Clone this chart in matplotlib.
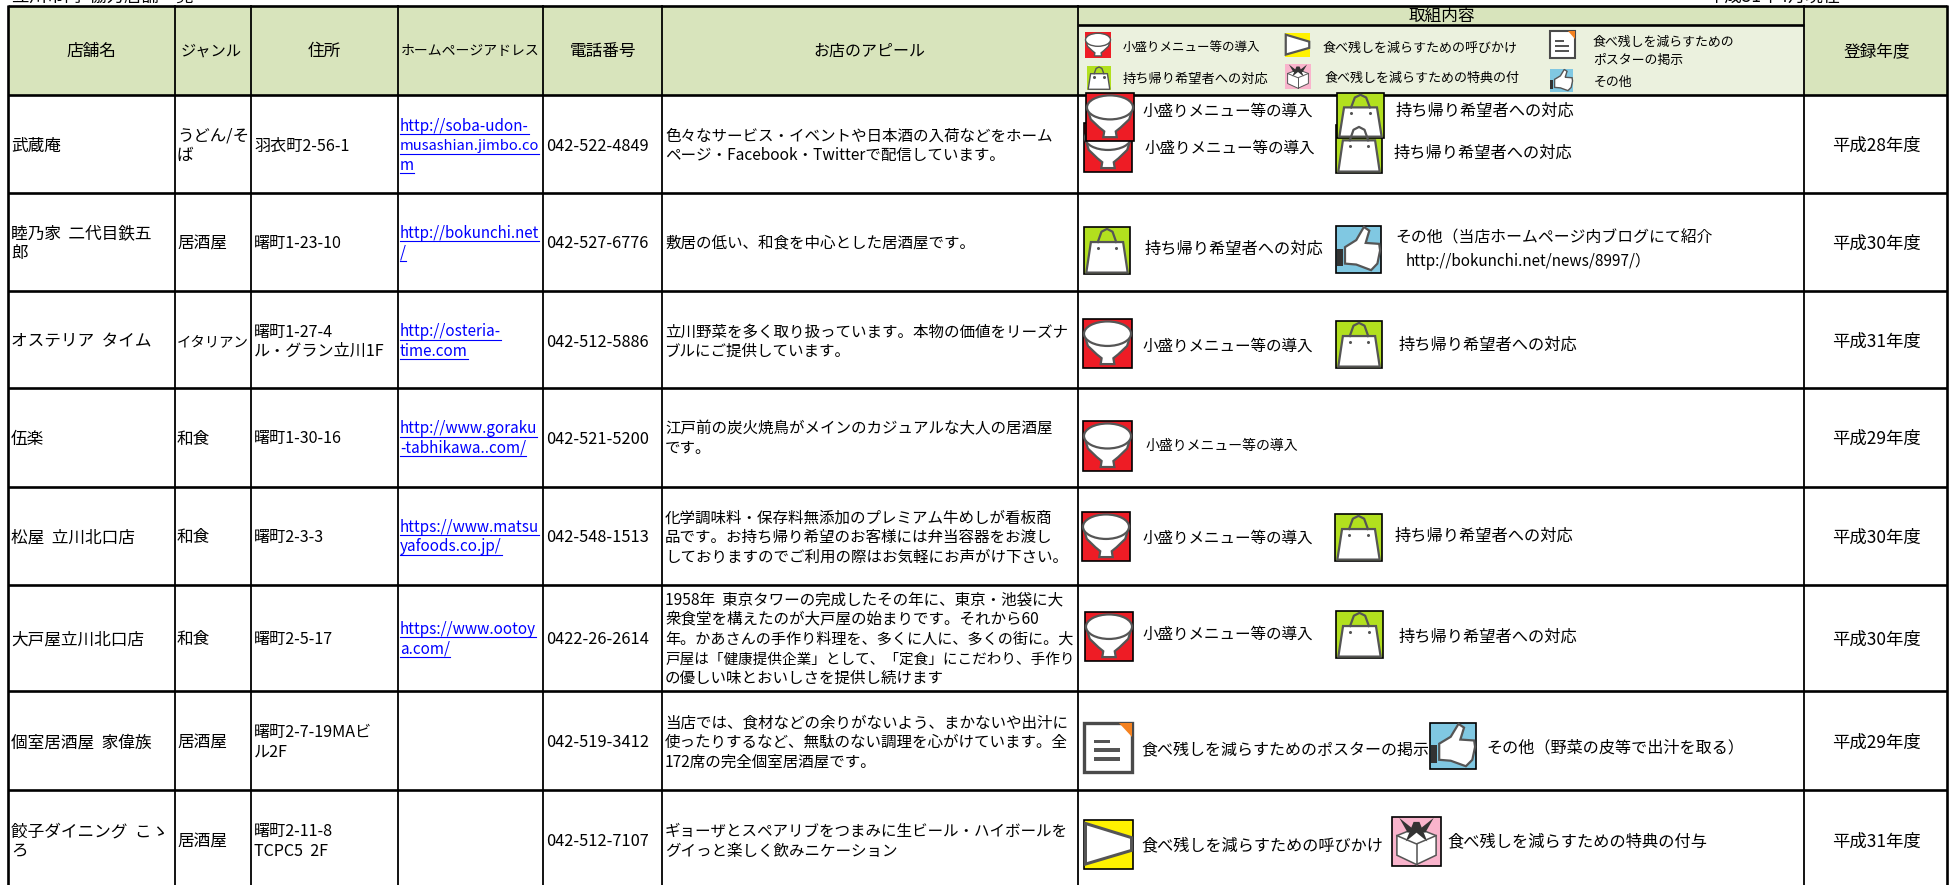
import matplotlib
matplotlib.use("Agg")
import matplotlib.pyplot as plt
from matplotlib.patches import Rectangle, Polygon, Ellipse

plt.rcParams['font.family'] = ['Noto Sans CJK JP', 'DejaVu Sans']

# table contents
headers = ["店舗名", "ジャンル", "住所", "ホームページアドレス", "電話番号", "お店のアピール"]
names = ["武蔵庵", "睦乃家  二代目鉄五\n郎", "オステリア  タイム", "伍楽", "松屋  立川北口店",
         "大戸屋立川北口店", "個室居酒屋  家偉族", "餃子ダイニング  こゝ\nろ"]
genres = ["うどん/そ\nば", "居酒屋", "イタリアン", "和食", "和食", "和食", "居酒屋", "居酒屋"]
addresses = ["羽衣町2-56-1", "曙町1-23-10", "曙町1-27-4\nル・グラン立川1F", "曙町1-30-16",
             "曙町2-3-3", "曙町2-5-17", "曙町2-7-19MAビ\nル2F", "曙町2-11-8\nTCPC5  2F"]
urls = ["http://soba-udon-\nmusashian.jimbo.co\nm", "http://bokunchi.net\n/",
        "http://osteria-\ntime.com", "http://www.goraku\n-tabhikawa..com/",
        "https://www.matsu\nyafoods.co.jp/", "https://www.ootoy\na.com/", "", ""]
phones = ["042-522-4849", "042-527-6776", "042-512-5886", "042-521-5200",
          "042-548-1513", "0422-26-2614", "042-519-3412", "042-512-7107"]
appeals = [
    "色々なサービス・イベントや日本酒の入荷などをホーム\nページ・Facebook・Twitterで配信しています。",
    "敷居の低い、和食を中心とした居酒屋です。",
    "立川野菜を多く取り扱っています。本物の価値をリーズナ\nブルにご提供しています。",
    "江戸前の炭火焼鳥がメインのカジュアルな大人の居酒屋\nです。",
    "化学調味料・保存料無添加のプレミアム牛めしが看板商\n品です。お持ち帰り希望のお客様には弁当容器をお渡し\nしておりますのでご利用の際はお気軽にお声がけ下さい。",
    "1958年  東京タワーの完成したその年に、東京・池袋に大\n衆食堂を構えたのが大戸屋の始まりです。それから60\n年。かあさんの手作り料理を、多くに人に、多くの街に。大\n戸屋は「健康提供企業」として、「定食」にこだわり、手作り\nの優しい味とおいしさを提供し続けます",
    "当店では、食材などの余りがないよう、まかないや出汁に\n使ったりするなど、無駄のない調理を心がけています。全\n172席の完全個室居酒屋です。",
    "ギョーザとスペアリブをつまみに生ビール・ハイボールを\nグイっと楽しく飲みニケーション",
]
years = ["平成28年度", "平成30年度", "平成31年度", "平成29年度",
         "平成30年度", "平成30年度", "平成29年度", "平成31年度"]

SMALL = "小盛りメニュー等の導入"
BAG = "持ち帰り希望者への対応"
CALL = "食べ残しを減らすための呼びかけ"
POSTER = "食べ残しを減らすためのポスターの掲示"
GIFT = "食べ残しを減らすための特典の付与"

# legend in the header: kind, box, then label
legend_icons = [("bowl", 1085, 32, 26, 26), ("call", 1285, 33, 25, 24), ("doc", 1550, 31, 25, 27),
                ("bag", 1087, 66, 24, 24), ("gift", 1285, 64, 26, 25), ("thumb", 1550, 69, 23, 23)]
legend_labels = [("小盛りメニュー等の導入", 1123, 46, 9), ("持ち帰り希望者への対応", 1123, 78, 9.5),
                 ("食べ残しを減らすための呼びかけ", 1323, 47, 9.4), ("食べ残しを減らすための特典の付", 1325, 77, 9.4),
                 ("食べ残しを減らすための", 1593, 41, 9.3), ("ポスターの掲示", 1593, 59, 9.3), ("その他", 1594, 81, 9.3)]

# icons of the rows, later ones lie on top
row_icons = [("bowl", 1084, 123, 48, 49), ("bowl", 1086, 93, 48, 48),
             ("bag", 1336, 125, 46, 48), ("bag", 1337, 93, 47, 45),
             ("bag", 1084, 227, 46, 47), ("thumb", 1336, 226, 45, 47),
             ("bowl", 1083, 319, 49, 49), ("bag", 1336, 321, 46, 47),
             ("bowl", 1083, 421, 49, 50),
             ("bowl", 1082, 512, 48, 49), ("bag", 1335, 514, 47, 47),
             ("bowl", 1085, 612, 48, 49), ("bag", 1336, 611, 47, 47),
             ("doc", 1084, 723, 48, 49), ("thumb", 1430, 723, 46, 46),
             ("call", 1084, 820, 49, 49), ("gift", 1392, 817, 49, 49)]
row_labels = [(SMALL, 1142, 110, 11.2), (SMALL, 1144, 147, 11.2), (BAG, 1396, 110, 11.7), (BAG, 1394, 152, 11.7),
              (BAG, 1145, 248, 11.7), ("その他（当店ホームページ内ブログにて紹介", 1395, 237, 11.4),
              ("http://bokunchi.net/news/8997/）", 1406, 260, 11),
              (SMALL, 1142, 345, 11.2), (BAG, 1399, 344, 11.7),
              (SMALL, 1146, 445, 10),
              (SMALL, 1142, 537, 11.2), (BAG, 1395, 535, 11.7),
              (SMALL, 1142, 633, 11.2), (BAG, 1399, 636, 11.7),
              (POSTER, 1141, 748, 11.5), ("その他（野菜の皮等で出汁を取る）", 1486, 746, 11.6),
              (CALL, 1141, 844, 11.6), (GIFT, 1447, 840, 11.7)]

# grid
col_x = [7.5, 175, 251, 398, 543, 662, 1078, 1804, 1947]
row_y = [95, 193, 291, 388, 487, 585, 691, 790]
row_mid = [144.5, 242, 340.5, 437.5, 536, 638, 741, 840]
header_mid = [91, 211, 324, 470, 603, 869]
header_size = [12, 11, 12, 10, 12, 11.5]

fig = plt.figure(figsize=(19.56, 8.85), dpi=100)
ax = fig.add_axes([0, 0, 1, 1])
ax.set_xlim(0, 1956)
ax.set_ylim(885, 0)
ax.axis("off")
renderer = fig.canvas.get_renderer()

GRAY = "#555555"


def put(x, y, s, size=11, color="black", ha="left", maxw=None):
    px = size * 100 / 72
    t = ax.text(x, y + px * 0.37, s, fontsize=size, color=color, ha=ha, va="baseline", zorder=6)
    # shrink a line that would run over the cell
    if maxw:
        w = t.get_window_extent(renderer).width
        if w > maxw:
            t.set_fontsize(size * maxw / w)
    return t


def cell(x, mid, s, size=11, color="black", underline=False, maxw=None):
    lines = s.split("\n")
    top = mid - (len(lines) - 1) * 19.5 / 2
    for i, line in enumerate(lines):
        y = top + i * 19.5
        t = put(x, y, line, size, color, maxw=maxw)
        if underline:
            w = t.get_window_extent(renderer).width
            ax.plot([x, x + w], [y + 9, y + 9], color=color, lw=0.8, zorder=6)


def poly(x, y, w, h, pts, **kw):
    ax.add_patch(Polygon([(x + u * w, y + v * h) for u, v in pts], closed=True, zorder=4, **kw))


def draw_icon(kind, x, y, w, h):
    big = w > 30
    # the small legend icons have no black frame
    edge = "black" if big else "none"
    bg = {"bowl": "#EE1C25", "bag": "#B2E01E", "call": "#FFF200", "doc": "white",
          "gift": "#F9B4CC", "thumb": "#80C8E2"}[kind]
    lw = 1.6 if big else 1.0
    if kind == "doc":
        ax.add_patch(Rectangle((x, y), w, h, fc=bg, ec="#4A4A4A", lw=2.4 if big else 1.5, zorder=4))
    else:
        ax.add_patch(Rectangle((x, y), w, h, fc=bg, ec=edge, lw=1.2, zorder=4))
    if kind == "bowl":
        poly(x, y, w, h, [(.04, .36), (.96, .36), (.9, .55), (.72, .72), (.62, .8), (.64, .92), (.36, .92),
                          (.38, .8), (.28, .72), (.1, .55)], fc="white", ec=GRAY, lw=lw)
        ax.add_patch(Ellipse((x + .5 * w, y + .3 * h), .96 * w, .5 * h, fc="white", ec=GRAY, lw=lw, zorder=4))
    elif kind == "bag":
        poly(x, y, w, h, [(.15, .32), (.85, .32), (.95, .97), (.05, .97)], fc="white", ec=GRAY, lw=lw)
        ax.plot([x + .3 * w, x + .38 * w, x + .5 * w, x + .62 * w, x + .7 * w],
                [y + .32 * h, y + .1 * h, y + .04 * h, y + .1 * h, y + .32 * h], color=GRAY, lw=lw, zorder=5)
        ax.plot([x + .3 * w, x + .7 * w], [y + .44 * h, y + .44 * h], ls="none", marker="o", ms=1.2, color=GRAY, zorder=5)
    elif kind == "call":
        poly(x, y, w, h, [(.03, .07), (.97, .36), (.97, .62), (.03, .9)], fc="white", ec=GRAY, lw=lw + .6)
    elif kind == "doc":
        poly(x, y, w, h, [(.72, 0), (1, 0), (1, .28)], fc="#F58220", ec="none")
        for v, u in [(.34, .55), (.52, .75), (.7, .75)]:
            ax.add_patch(Rectangle((x + .2 * w, y + v * h), (u - .2) * w, .07 * h, fc=GRAY, ec="none", zorder=5))
    elif kind == "gift":
        poly(x, y, w, h, [(.1, .38), (.5, .22), (.9, .38), (.9, .78), (.5, .97), (.1, .78)], fc="white", ec=GRAY, lw=lw * .7)
        ax.plot([x + .1 * w, x + .5 * w, x + .9 * w], [y + .38 * h, y + .55 * h, y + .38 * h], color=GRAY, lw=lw * .7, zorder=5)
        ax.plot([x + .5 * w, x + .5 * w], [y + .55 * h, y + .97 * h], color=GRAY, lw=lw * .7, zorder=5)
        poly(x, y, w, h, [(.5, .3), (.15, .02), (.32, .32)], fc="#333333", ec="none")
        poly(x, y, w, h, [(.5, .3), (.85, .02), (.68, .32)], fc="#333333", ec="none")
        poly(x, y, w, h, [(.44, .1), (.56, .1), (.72, .5), (.5, .32), (.28, .5)], fc="#333333", ec="none")
    elif kind == "thumb":
        poly(x, y, w, h, [(.2, .45), (.45, .3), (.62, .02), (.74, .1), (.66, .36), (.96, .38), (.98, .52),
                          (.92, .8), (.78, .94), (.45, .82), (.2, .8)], fc="white", ec=GRAY, lw=lw)
        ax.add_patch(Rectangle((x + .02 * w, y + .48 * h), .13 * w, .38 * h, fc="#333333", ec="none", zorder=5))


# header fills
ax.add_patch(Rectangle((col_x[0], 6), col_x[-1] - col_x[0], 89, fc="#D8E4BC", ec="none", zorder=1))
ax.add_patch(Rectangle((col_x[6], 25), col_x[7] - col_x[6], 70, fc="#EBF1DE", ec="none", zorder=1))

# grid lines
ax.hlines([6] + row_y, col_x[0], col_x[-1], color="black", lw=1.9, zorder=3)
ax.hlines(25, col_x[6], col_x[7], color="black", lw=1.9, zorder=3)
for i, x in enumerate(col_x):
    ax.vlines(x, 5, 885, color="black", lw=1.9 if i in (0, 8) else 1.3, zorder=3)

# title strip, nearly cut off at the top edge
put(12, -5, "立川市内  協力店舗一覧", 12.5)
put(1707, -5, "平成31年4月現在", 12.5)

# header texts
for s, x, size in zip(headers, header_mid, header_size):
    put(x, 50, s, size, ha="center")
put(1442, 15, "取組内容", 12, ha="center")
put(1877, 50, "登録年度", 12, ha="center")

for icon in legend_icons:
    draw_icon(*icon)
for s, x, y, size in legend_labels:
    put(x, y, s, size)

# body rows
for i, mid in enumerate(row_mid):
    cell(11, mid, names[i], 12, maxw=160)
    cell(177, mid, genres[i], 12, maxw=72)
    cell(254, mid, addresses[i], 11.6, maxw=142)
    if urls[i]:
        cell(400, mid, urls[i], 11, color="#0000FF", underline=True, maxw=139)
    cell(546, mid, phones[i], 11.8, maxw=114)
    cell(665, mid, appeals[i], 11.2, maxw=408)
    put(1876, mid, years[i], 12.5, ha="center")

for icon in row_icons:
    draw_icon(*icon)
for s, x, y, size in row_labels:
    put(x, y, s, size)

fig.savefig("out.png", dpi=100)
